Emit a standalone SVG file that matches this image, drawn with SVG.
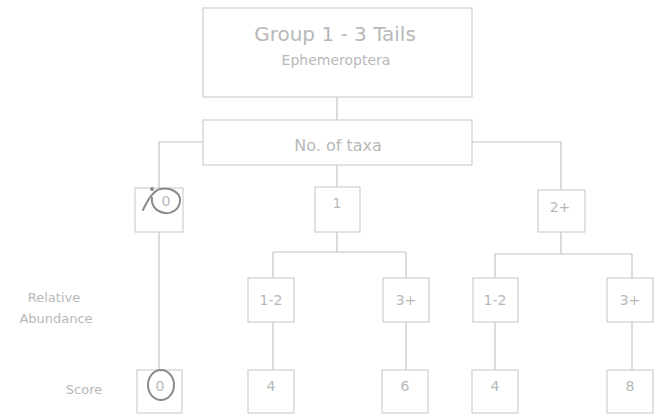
<svg xmlns="http://www.w3.org/2000/svg" width="654" height="419" viewBox="0 0 654 419">
<style>
.box{fill:#ffffff;stroke:#cfcfcf;stroke-width:1.2}
.conn{fill:none;stroke:#c4c4c4;stroke-width:1.2}
.t{font-family:"DejaVu Sans",Verdana,sans-serif;fill:#b8b8b8;text-anchor:middle}
.ann{fill:none;stroke:#8a8a8a;stroke-width:2;stroke-linecap:round}
</style>
<rect width="654" height="419" fill="#ffffff"/>
<g id="connectors">
<path class="conn" d="M337 97V120"/>
<path class="conn" d="M203 142H159V188"/>
<path class="conn" d="M337 165V187"/>
<path class="conn" d="M472 142H561V190"/>
<path class="conn" d="M159 232V370"/>
<path class="conn" d="M337 232V252M273 252H406M273 252V278M406 252V278"/>
<path class="conn" d="M561 232V254M495 254H632M495 254V278M632 254V278"/>
<path class="conn" d="M273 322V370"/>
<path class="conn" d="M406 322V370"/>
<path class="conn" d="M495 322V370"/>
<path class="conn" d="M632 322V370"/>
</g>
<g id="labels">
<text class="t" x="54" y="302" font-size="13">Relative</text>
<text class="t" x="56" y="323" font-size="13">Abundance</text>
<text class="t" x="84" y="394" font-size="13">Score</text>
</g>
<g id="group">
<rect class="box" x="203" y="8" width="269" height="89"/>
<text class="t" x="335" y="41" font-size="20">Group 1 - 3 Tails</text>
<text class="t" x="336" y="65" font-size="14">Ephemeroptera</text>
</g>
<g id="taxa">
<rect class="box" x="203" y="120" width="269" height="45"/>
<text class="t" x="338" y="151" font-size="16">No. of taxa</text>
</g>
<g id="n0">
<rect class="box" x="135" y="188" width="48" height="44"/>
<text class="t" x="166" y="206" font-size="14">0</text>
</g>
<g id="n1">
<rect class="box" x="315" y="187" width="45" height="45"/>
<text class="t" x="337" y="208" font-size="14">1</text>
</g>
<g id="n2">
<rect class="box" x="538" y="190" width="47" height="42"/>
<text class="t" x="560" y="212" font-size="14">2+</text>
</g>
<g id="a1">
<rect class="box" x="248" y="278" width="46" height="44"/>
<text class="t" x="271" y="305" font-size="14">1-2</text>
</g>
<g id="a2">
<rect class="box" x="383" y="278" width="46" height="44"/>
<text class="t" x="406" y="305" font-size="14">3+</text>
</g>
<g id="a3">
<rect class="box" x="473" y="278" width="45" height="44"/>
<text class="t" x="495" y="305" font-size="14">1-2</text>
</g>
<g id="a4">
<rect class="box" x="607" y="278" width="46" height="44"/>
<text class="t" x="630" y="305" font-size="14">3+</text>
</g>
<g id="s0">
<rect class="box" x="137" y="370" width="45" height="43"/>
<text class="t" x="160" y="391" font-size="14">0</text>
</g>
<g id="s1">
<rect class="box" x="248" y="370" width="46" height="43"/>
<text class="t" x="271" y="391" font-size="14">4</text>
</g>
<g id="s2">
<rect class="box" x="382" y="370" width="46" height="43"/>
<text class="t" x="405" y="391" font-size="14">6</text>
</g>
<g id="s3">
<rect class="box" x="472" y="370" width="46" height="43"/>
<text class="t" x="495" y="391" font-size="14">4</text>
</g>
<g id="s4">
<rect class="box" x="607" y="370" width="46" height="43"/>
<text class="t" x="630" y="391" font-size="14">8</text>
</g>
<g id="annotations">
<path class="ann" d="M143 210C148 199 153 191 160 189C170 187 180 192 180 200C180 209 172 214 165 213C156 212 151 205 152 198"/>
<circle cx="152" cy="189" r="2" fill="#8a8a8a"/>
<ellipse class="ann" cx="161" cy="385" rx="13" ry="15" stroke-width="1.5"/>
</g>
</svg>
